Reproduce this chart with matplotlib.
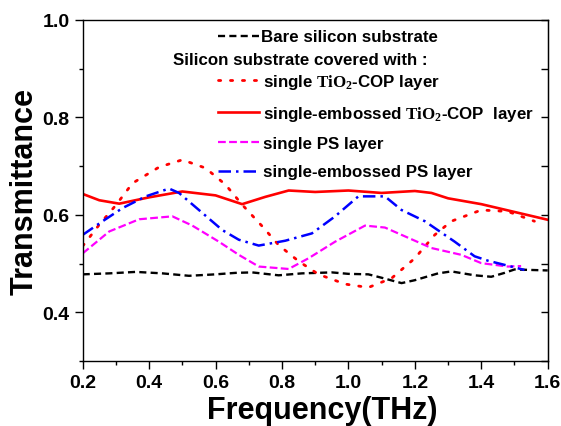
import numpy as np
import matplotlib
matplotlib.use('Agg')
import matplotlib.pyplot as plt
from matplotlib.ticker import MultipleLocator, FormatStrFormatter

plt.rcParams['font.family'] = ['Liberation Sans', 'DejaVu Sans']
plt.rcParams['font.weight'] = 'bold'
plt.rcParams['mathtext.fontset'] = 'custom'
plt.rcParams['mathtext.rm'] = 'Liberation Serif'
plt.rcParams['mathtext.it'] = 'Liberation Serif:italic'
plt.rcParams['mathtext.bf'] = 'Liberation Serif:bold'

# datos
f_bare = [0.2, 0.28, 0.36, 0.44, 0.52, 0.6, 0.66, 0.71, 0.79, 0.86, 0.95, 1.0,
          1.06, 1.1, 1.16, 1.2, 1.27, 1.31, 1.38, 1.43, 1.47, 1.5, 1.6]
t_bare = [0.478, 0.480, 0.483, 0.480, 0.475, 0.478, 0.481, 0.482, 0.476, 0.480, 0.482, 0.479,
          0.478, 0.471, 0.460, 0.466, 0.480, 0.484, 0.476, 0.473, 0.481, 0.488, 0.486]

f_tio2 = [0.2, 0.25, 0.3, 0.35, 0.43, 0.5, 0.57, 0.63, 0.68, 0.74, 0.79, 0.85, 0.91,
          0.99, 1.06, 1.13, 1.2, 1.26, 1.31, 1.4, 1.48, 1.56]
t_tio2 = [0.536, 0.58, 0.62, 0.665, 0.698, 0.713, 0.696, 0.662, 0.621, 0.577, 0.538, 0.505, 0.478,
          0.458, 0.451, 0.470, 0.511, 0.559, 0.587, 0.610, 0.607, 0.587]

f_tio2_emb = [0.2, 0.25, 0.31, 0.4, 0.5, 0.6, 0.68, 0.75, 0.82, 0.9, 1.0, 1.1,
              1.2, 1.25, 1.3, 1.4, 1.5, 1.6]
t_tio2_emb = [0.643, 0.630, 0.623, 0.636, 0.648, 0.640, 0.622, 0.637, 0.650, 0.647, 0.650, 0.645,
              0.649, 0.645, 0.634, 0.622, 0.606, 0.590]

f_ps = [0.2, 0.28, 0.37, 0.47, 0.53, 0.61, 0.67, 0.73, 0.82, 0.88, 0.96, 1.05,
        1.11, 1.25, 1.34, 1.4, 1.48, 1.52]
t_ps = [0.521, 0.566, 0.591, 0.597, 0.578, 0.545, 0.518, 0.494, 0.489, 0.511, 0.545, 0.578,
        0.574, 0.532, 0.518, 0.501, 0.494, 0.495]

f_ps_emb = [0.2, 0.26, 0.32, 0.39, 0.46, 0.49, 0.55, 0.62, 0.67, 0.73, 0.81, 0.89,
            0.96, 1.03, 1.11, 1.16, 1.23, 1.32, 1.38, 1.42, 1.49, 1.53]
t_ps_emb = [0.559, 0.587, 0.614, 0.638, 0.654, 0.645, 0.610, 0.569, 0.549, 0.537, 0.547, 0.562,
            0.597, 0.638, 0.638, 0.610, 0.587, 0.545, 0.515, 0.506, 0.494, 0.487]


def main():
    fig = plt.figure(figsize=(5.61, 4.27), dpi=100)
    ax = fig.add_axes([0.1474, 0.152, 0.8289, 0.799])

    l_bare, = ax.plot(f_bare, t_bare, color='black', lw=1.7, ls=(0, (3, 1.8)),
                      label='Bare silicon substrate')
    l_tio2, = ax.plot(f_tio2, t_tio2, color='#ff0000', lw=2.0, ls=(0, (0.8, 3.5)),
                      dash_capstyle='round', label=r'single $\mathrm{TiO_2}$-COP layer')
    l_tio2e, = ax.plot(f_tio2_emb, t_tio2_emb, color='#ff0000', lw=1.9,
                       label=r'single-embossed $\mathrm{TiO_2}$-COP  layer')
    l_ps, = ax.plot(f_ps, t_ps, color='#ff00ff', lw=1.6, ls=(0, (3.5, 1.5)),
                    label='single PS layer')
    l_pse, = ax.plot(f_ps_emb, t_ps_emb, color='#0000ff', lw=1.8, ls=(0, (5, 2, 1, 2)),
                     label='single-embossed PS layer')

    # ejes
    ax.set_xlim(0.2, 1.6)
    ax.set_ylim(0.3, 1.0)
    ax.xaxis.set_major_locator(MultipleLocator(0.2))
    ax.xaxis.set_minor_locator(MultipleLocator(0.1))
    ax.xaxis.set_major_formatter(FormatStrFormatter('%.1f'))
    ax.yaxis.set_minor_locator(MultipleLocator(0.1))
    ax.set_yticks([0.4, 0.6, 0.8, 1.0])
    ax.yaxis.set_major_formatter(FormatStrFormatter('%.1f'))
    ax.tick_params(which='major', direction='out', length=6, width=1, labelsize=14)
    ax.tick_params(which='minor', direction='out', length=3, width=1)
    ax.tick_params(top=False, right=False)
    for s in ax.spines.values():
        s.set_linewidth(1.0)

    ax_r = ax.secondary_yaxis('right')
    ax_r.yaxis.set_major_locator(MultipleLocator(0.1))
    ax_r.tick_params(which='major', direction='in', length=5, width=1, labelright=False)

    ax.set_xlabel('Frequency(THz)', fontsize=22, fontweight='bold')
    ax.xaxis.set_label_coords(0.515, -0.168, transform=ax.transAxes)
    ax.xaxis.label.set_va('baseline')
    ax.set_ylabel('Transmittance', fontsize=22, fontweight='bold', labelpad=2)

    # leyenda
    leg1 = ax.legend(handles=[l_bare], loc='center left', bbox_to_anchor=(0.291, 0.95),
                     frameon=False, fontsize=12.2, handlelength=2.4, handletextpad=0.15,
                     borderpad=0, borderaxespad=0)
    ax.add_artist(leg1)
    ax.text(0.194, 0.884, 'Silicon substrate covered with :', transform=ax.transAxes,
            fontsize=12.2, fontweight='bold', va='center', ha='left')
    ax.legend(handles=[l_tio2, l_tio2e, l_ps, l_pse], loc='upper left',
              bbox_to_anchor=(0.291, 0.848), frameon=False, fontsize=12.2,
              handlelength=2.4, handletextpad=0.25, borderpad=0, borderaxespad=0,
              labelspacing=0.78)

    fig.savefig('out.png', dpi=100)


if __name__ == "__main__":
    main()
